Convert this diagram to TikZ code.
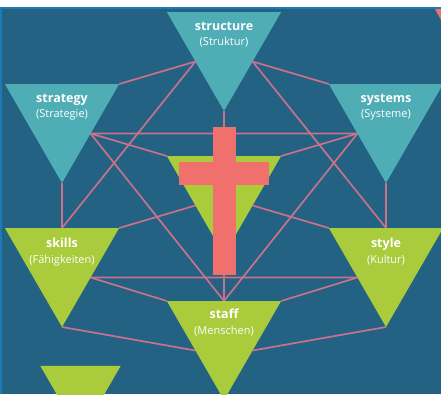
\documentclass[tikz,border=0pt]{standalone}
\usepackage{fontspec}
\setmainfont{Open Sans}
\usetikzlibrary{shapes.geometric}

\definecolor{bgblue}{RGB}{35,98,130}
\definecolor{edgeblue}{RGB}{28,122,182}
\definecolor{hardcol}{RGB}{78,173,181}
\definecolor{softcol}{RGB}{169,203,60}
\definecolor{crossred}{RGB}{240,112,110}
\definecolor{linkpink}{RGB}{200,114,140}

\pgfdeclarelayer{back}
\pgfdeclarelayer{links}
\pgfsetlayers{back,links,main}

\newcommand{\tricaption}[2]{{\fontsize{12.5}{15}\selectfont\bfseries #1}\\#2}

\begin{document}
\begin{tikzpicture}[
x=1pt, y=-1pt,
tri/.style={regular polygon, regular polygon sides=3, shape border rotate=180,
  minimum size=132pt, inner sep=0pt, outer sep=0pt},
hardS/.style={tri, fill=hardcol},
softS/.style={tri, fill=softcol},
link/.style={draw=linkpink, line width=1.7pt},
caption/.style={text=white, align=center, inner sep=0pt,
  font=\fontsize{11}{15.5}\selectfont}
]

\useasboundingbox (0,0) rectangle (441,394);

\begin{pgfonlayer}{back}
\fill[white] (0,0) rectangle (441,7);
\fill[bgblue] (0,7) rectangle (441,394);
\draw[edgeblue, line width=2pt] (1,394) -- (1,8) -- (441,8);
\end{pgfonlayer}

\path
(224,45) node[hardS] (structure) {}
(62,117) node[hardS] (strategy) {}
(386,117) node[hardS] (systems) {}
(224,189) node[softS] (values) {}
(62,261) node[softS] (skills) {}
(386,261) node[softS] (style) {}
(224,334) node[softS] (staff) {}
(80.5,389) node[softS, minimum size=93pt] (more) {}
;

\node[caption, below=10pt] (structure-t) at (structure.north) {\tricaption{structure}{(Struktur)}};
\node[caption, below=10pt] (strategy-t) at (strategy.north) {\tricaption{strategy}{(Strategie)}};
\node[caption, below=10pt] (systems-t) at (systems.north) {\tricaption{systems}{(Systeme)}};
\node[caption, below=10pt] (skills-t) at (skills.north) {\tricaption{skills}{(Fähigkeiten)}};
\node[caption, below=10pt] (style-t) at (style.north) {\tricaption{style}{(Kultur)}};
\node[caption, below=8pt] (staff-t) at (staff.north) {\tricaption{staff}{(Menschen)}};

\begin{pgfonlayer}{links}
\foreach \a/\b in {structure.210/strategy.30, structure.210/skills.north,
    structure.330/systems.150, structure.330/style.north,
    structure.south/values.north,
    strategy.330/systems.210, strategy.330/values.150, strategy.330/staff.north,
    systems.210/values.30, systems.210/staff.north,
    strategy.south/skills.north, systems.south/style.north,
    skills.30/values.210, style.150/values.330,
    skills.330/style.210, skills.330/staff.150, style.210/staff.30,
    values.south/staff.north,
    skills.south/staff.210, style.south/staff.330}
  \draw[link] (\a) -- (\b);
\end{pgfonlayer}

\fill[crossred] (213,127) rectangle (236,275);
\fill[crossred] (179,162) rectangle (269,185);
\fill[crossred] (435,9) -- (441,9) -- (441,20) -- cycle;

\end{tikzpicture}
\end{document}
